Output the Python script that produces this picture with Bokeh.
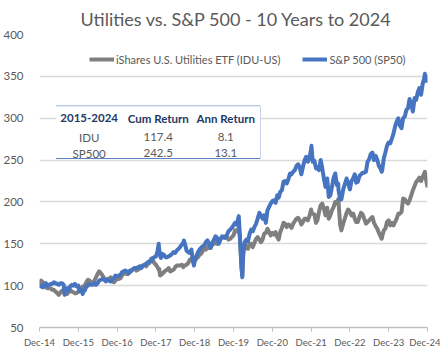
import pandas as pd
from bokeh.plotting import figure
from bokeh.models import ColumnDataSource, Legend, LegendItem, FixedTicker, Label, BoxAnnotation
from bokeh.embed import file_html
from bokeh.resources import INLINE

# ---------------- data ----------------
title_text = "Utilities vs. S&P 500 - 10 Years to 2024"
series_names = ["iShares U.S. Utilities ETF (IDU-US)", "S&P 500 (SP50)"]

# month-end values, Dec-2014 .. Dec-2024 (index, Dec-14 = 100)
sp_monthly = [100,
    98, 103, 101, 102, 103, 101, 103, 97, 94, 101, 102, 100,
    95, 94, 100, 101, 103, 103, 107, 107, 107, 105, 109, 111,
    113, 117, 117, 118, 120, 121, 123, 124, 126, 129, 133, 135,
    143, 138, 134, 135, 138, 139, 144, 149, 150, 140, 143, 130,
    140, 145, 148, 154, 145, 155, 157, 155, 158, 161, 167, 172,
    173, 160, 135, 155, 162, 165, 174, 187, 180, 175, 194, 201,
    199, 205, 214, 225, 227, 233, 238, 245, 233, 250, 248, 263,
    249, 241, 250, 228, 228, 208, 229, 220, 203, 216, 228, 215,
    228, 223, 231, 235, 236, 251, 259, 255, 243, 238, 259, 271,
    276, 290, 300, 288, 302, 312, 316, 324, 331, 328, 348, 342.5]

idu_monthly = [100,
    104, 98, 97, 95, 93, 89, 94, 90, 92, 93, 91, 93,
    97, 100, 107, 104, 106, 114, 115, 109, 108, 110, 104, 108,
    109, 114, 114, 116, 120, 118, 121, 124, 123, 127, 131, 125,
    120, 114, 118, 121, 118, 122, 124, 125, 124, 127, 132, 130,
    134, 138, 145, 146, 146, 150, 150, 156, 158, 158, 156, 160,
    165, 158, 143, 145, 150, 146, 156, 155, 155, 163, 164, 163,
    164, 155, 169, 174, 173, 169, 177, 181, 173, 180, 178, 191,
    185, 178, 196, 192, 193, 184, 194, 198, 173, 175, 187, 188,
    186, 176, 182, 185, 174, 178, 182, 171, 163, 159, 168, 178,
    175, 176, 186, 188, 203, 198, 208, 219, 226, 225, 234, 217.4]

# mid-month values (15th), Jan-2015 .. Dec-2024
sp_mid = [
    99, 101, 100, 102, 104, 102, 103, 101, 97, 99, 100, 99,
    93, 93, 99, 102, 101, 101, 106, 108, 105, 106, 107, 112,
    112, 116, 118, 115, 118, 121, 122, 121, 125, 128, 129, 134,
    141, 133, 137, 134, 136, 140, 142, 146, 151, 142, 139, 129,
    135, 143, 147, 152, 150, 151, 159, 150, 159, 157, 165, 169,
    175, 181, 124, 152, 153, 167, 170, 180, 184, 184, 190, 198,
    202, 208, 212, 224, 222, 234, 236, 243, 241, 242, 254, 252,
    248, 240, 238, 240, 218, 206, 218, 234, 214, 205, 222, 222,
    225, 233, 224, 233, 235, 248, 257, 250, 250, 240, 252, 267,
    270, 282, 296, 291, 300, 310, 323, 308, 322, 336, 341, 350]

idu_mid = [
    106, 100, 97, 97, 95, 91, 92, 93, 90, 95, 92, 91,
    95, 99, 104, 106, 103, 110, 117, 112, 107, 108, 105, 106,
    108, 112, 115, 114, 118, 121, 119, 123, 125, 126, 132, 127,
    122, 113, 116, 119, 117, 119, 124, 124, 122, 125, 131, 133,
    132, 137, 141, 143, 145, 149, 152, 152, 157, 159, 155, 158,
    166, 168, 122, 150, 144, 150, 151, 158, 152, 162, 168, 160,
    161, 158, 164, 175, 170, 172, 174, 180, 178, 176, 180, 183,
    186, 175, 188, 198, 184, 180, 190, 200, 200, 168, 181, 191,
    184, 180, 176, 187, 180, 176, 180, 175, 168, 159, 166, 176,
    172, 172, 180, 186, 204, 200, 202, 214, 224, 229, 230, 228]

# intra-month extremes visible in the reference
extra_dates = ["2015-08-25", "2016-02-11", "2018-01-26", "2018-02-08", "2018-09-20",
               "2018-12-24", "2020-02-19", "2020-03-23", "2022-01-03", "2022-09-12",
               "2022-10-12", "2023-10-27", "2024-12-06"]
extra_sp = [90, 90, 150, 136, 154, 124, 183, 110, 267, 222, 203, 236, 353]
extra_idu = [89, 99, 119, 112, 124, 126, 170, 112, 188, 203, 166, 156, 236]

x_tick_labels = ["Dec-14", "Dec-15", "Dec-16", "Dec-17", "Dec-18", "Dec-19",
                 "Dec-20", "Dec-21", "Dec-22", "Dec-23", "Dec-24"]
y_ticks = [50, 100, 150, 200, 250, 300, 350, 400]

table_header = ["2015-2024", "Cum Return", "Ann Return"]
table_rows = [["IDU", "117.4", "8.1"],
              ["SP500", "242.5", "13.1"]]

# ---------------- build ----------------
start = pd.Timestamp("2014-12-31")
month_end = list(pd.date_range(start, periods=len(sp_monthly), freq="ME"))
mid_month = list(pd.date_range("2015-01-01", periods=len(sp_mid), freq="MS") + pd.Timedelta(days=14))
extras = [pd.Timestamp(d) for d in extra_dates]
df = pd.DataFrame({"date": month_end + mid_month + extras,
                   "sp": sp_monthly + sp_mid + extra_sp,
                   "idu": idu_monthly + idu_mid + extra_idu})
df = df.sort_values("date").reset_index(drop=True)
df["t"] = (df["date"] - start).dt.days / 365.25
src = ColumnDataSource(df)

FONT = "Lato"
TXT = "#595959"

p = figure(width=440, height=352, output_backend="svg", toolbar_location=None,
           x_range=(0, 10), y_range=(50, 400),
           min_border_left=35, min_border_right=13, min_border_top=33, min_border_bottom=25)
p.outline_line_color = None
p.background_fill_color = "white"
p.border_fill_color = "white"

p.title.text = title_text
p.title.align = "left"
p.title.offset = 41
p.title.text_font = FONT
p.title.text_font_size = "18px"
p.title.text_font_style = "normal"
p.title.text_color = TXT

r_idu = p.line("t", "idu", source=src, line_color="#7F7F7F", line_width=4, line_join="round")
r_sp = p.line("t", "sp", source=src, line_color="#4674C1", line_width=4, line_join="round")

# axes
p.xaxis.ticker = FixedTicker(ticks=list(range(len(x_tick_labels))))
p.xaxis.major_label_overrides = {i: s for i, s in enumerate(x_tick_labels)}
p.xaxis.axis_line_color = "#BFBFBF"
p.xaxis.axis_line_width = 1.5
p.xaxis.major_tick_line_color = "#BFBFBF"
p.xaxis.major_tick_out = 4
p.xaxis.major_tick_in = 0
p.xaxis.minor_tick_line_color = None
p.xaxis.major_label_text_font = FONT
p.xaxis.major_label_text_font_size = "9.5px"
p.xaxis.major_label_text_color = TXT
p.xaxis.major_label_standoff = 5

p.yaxis.ticker = FixedTicker(ticks=y_ticks)
p.yaxis.axis_line_color = None
p.yaxis.major_tick_line_color = None
p.yaxis.minor_tick_line_color = None
p.yaxis.major_label_text_font = FONT
p.yaxis.major_label_text_font_size = "11.5px"
p.yaxis.major_label_text_color = TXT
p.yaxis.major_label_standoff = 10

p.xgrid.visible = False
p.ygrid.grid_line_color = "#D9D9D9"
p.ygrid.grid_line_width = 1.5

# legend
legend = Legend(items=[LegendItem(label=series_names[0], renderers=[r_idu]),
                       LegendItem(label=series_names[1], renderers=[r_sp])],
                orientation="horizontal", location=(50, 258),
                padding=0, margin=0, spacing=22, label_standoff=2, glyph_width=25,
                label_text_font=FONT, label_text_font_size="11px", label_text_color=TXT,
                background_fill_alpha=0, border_line_color=None)
p.add_layout(legend)

# inset table (annotation, positioned in data units)
tl, tr, tb, tt = 0.43, 5.69, 252.4, 314.3
p.add_layout(BoxAnnotation(left=tl, right=tr, bottom=tb, top=tt,
                           fill_color="white", fill_alpha=1.0, line_color=None))
p.segment(x0=[tl], y0=[tt], x1=[tr], y1=[tt], line_color="#9DB3DD", line_width=2)
p.segment(x0=[tl], y0=[tb], x1=[tr], y1=[tb], line_color="#5B83C6", line_width=2)
p.segment(x0=[tr], y0=[tb], x1=[tr], y1=[tt], line_color="#9DB3DD", line_width=1)

col_x = [1.28, 3.06, 4.8]
row_y = [300, 277.4, 258.4]
for cx, h in zip(col_x, table_header):
    p.add_layout(Label(x=cx, y=row_y[0], text=h, text_align="center", text_baseline="middle",
                       text_font=FONT, text_font_size="11.5px", text_font_style="bold",
                       text_color="#1F3864"))
for ry, row in zip(row_y[1:], table_rows):
    for cx, s in zip(col_x, row):
        p.add_layout(Label(x=cx, y=ry, text=s, text_align="center", text_baseline="middle",
                           text_font=FONT, text_font_size="11.5px", text_color=TXT))

open("out.html", "w").write(file_html(p, INLINE))
